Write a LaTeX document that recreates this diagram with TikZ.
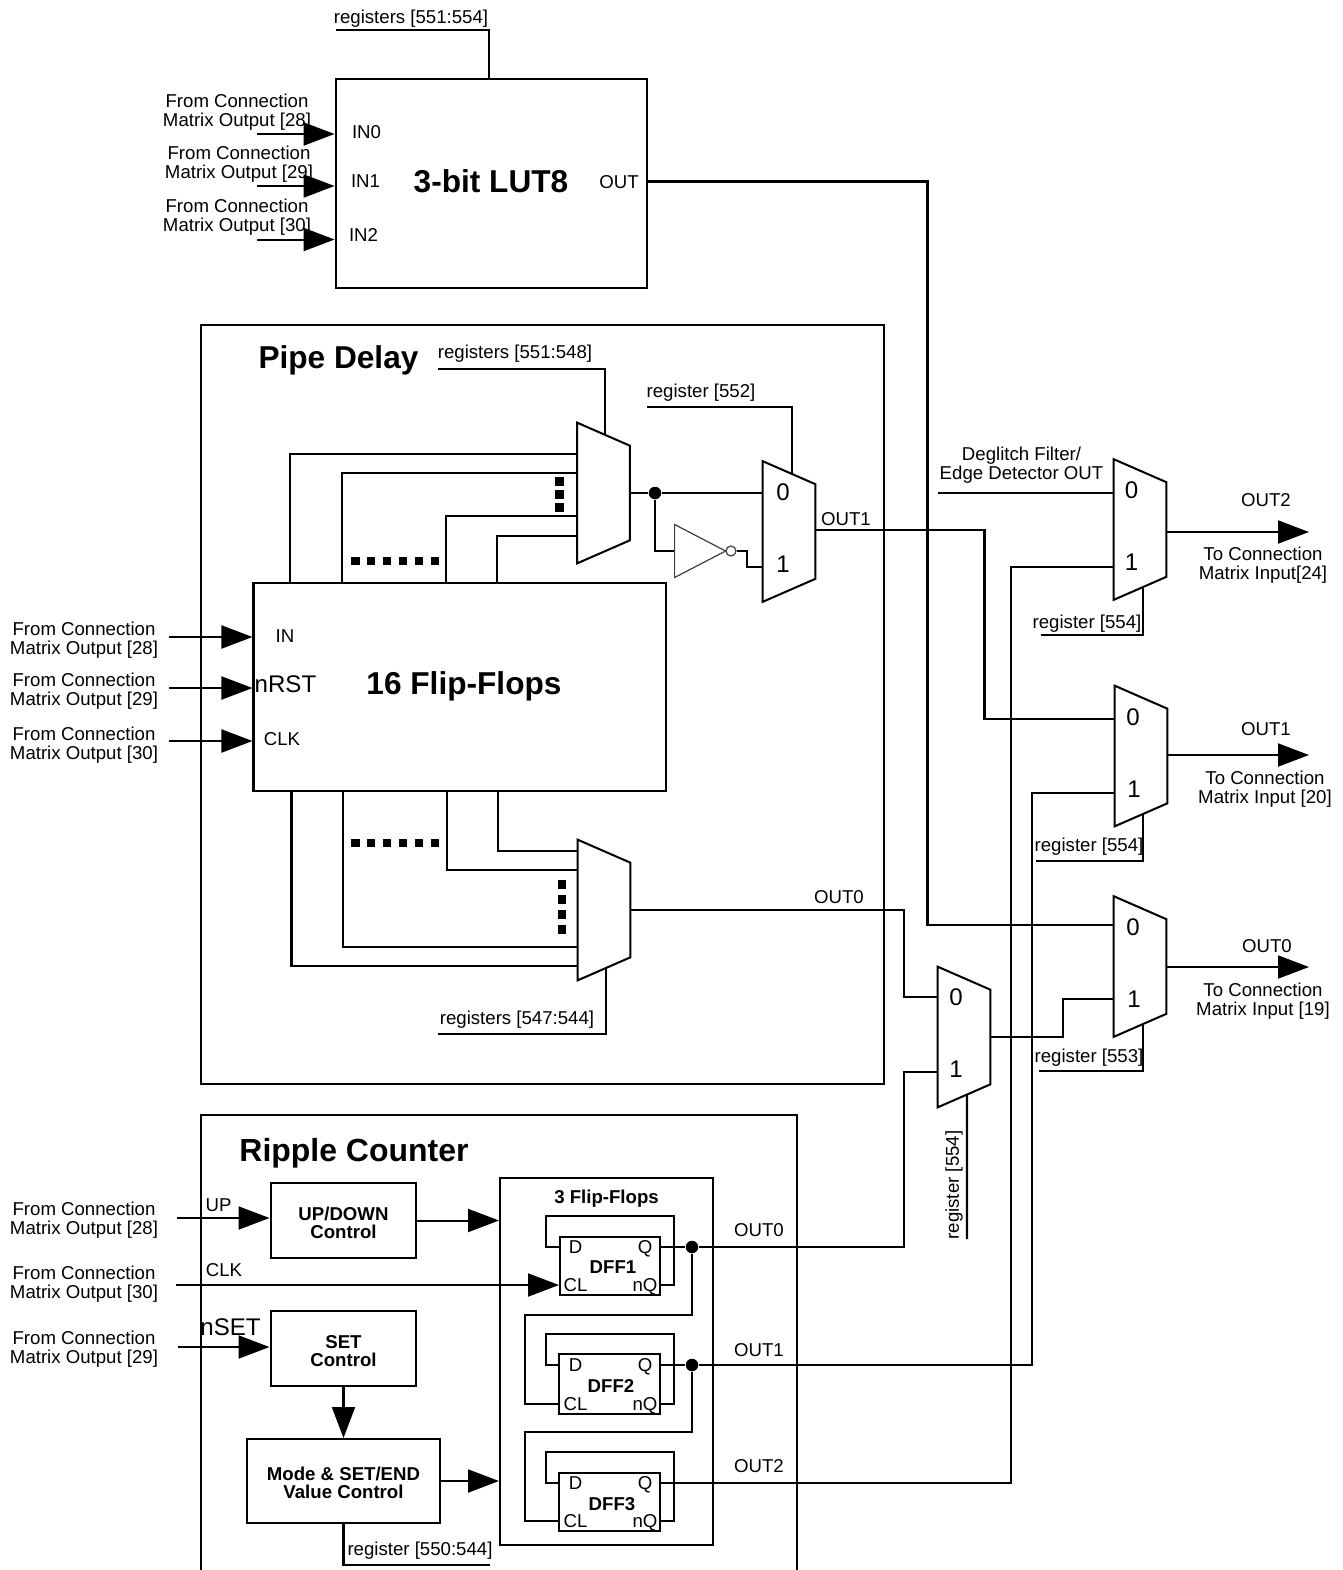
\documentclass[tikz,border=0pt]{standalone}
\usepackage{fontspec}
\setmainfont{Liberation Sans}
\usetikzlibrary{arrows.meta,shapes.geometric}
\tikzset{
  wire/.style={line width=1.15pt},
  feed/.style={wire,-{Triangle[length=0.62cm,width=0.46cm]}},
  blockbox/.style={draw,line width=1.15pt,inner sep=0pt,align=center},
  muxbox/.style={inner sep=0pt,minimum width=1.04cm,minimum height=2.8cm,
    append after command={\pgfextra{
      \draw[wire,line join=miter] (\tikzlastnode.north west) -- ([yshift=-0.46cm]\tikzlastnode.north east) -- ([yshift=0.46cm]\tikzlastnode.south east) -- (\tikzlastnode.south west) -- cycle;
      \coordinate (\tikzlastnode-top) at ([yshift=-0.23cm]\tikzlastnode.north);
      \coordinate (\tikzlastnode-bot) at ([yshift=0.23cm]\tikzlastnode.south);
    }}},
  lbl/.style={inner sep=0pt,align=center,yshift=-0.04cm,font=\fontsize{10.6}{10.5}\selectfont},
  portlbl/.style={inner sep=0pt,text height=7.6pt,text depth=0pt,font=\fontsize{10.6}{10.5}\selectfont},
  boldlbl/.style={inner sep=0pt,align=center,font=\fontsize{10.6}{10.5}\selectfont\bfseries},
  biglbl/.style={inner sep=0pt,align=center,font=\fontsize{13.7}{14}\selectfont},
  titlelbl/.style={inner sep=0pt,align=center,font=\fontsize{18}{18}\selectfont\bfseries},
  squaredots/.style={line width=0.17cm,dash pattern=on 0.17cm off 0.15cm},
  junction/.style={circle,fill=black,inner sep=0pt,minimum size=0.25cm}
}
\begin{document}
\begin{tikzpicture}[x=0.02cm,y=-0.02cm]
\useasboundingbox (0,0) rectangle (1343,1570);

\node[blockbox,minimum width=6.23cm,minimum height=4.18cm] (lut) at (491.3,183.7) {};
\node[titlelbl] (luttitle) at (491,181.5) {3-bit LUT8};
\node[lbl] (lutctl) at (411,17) {registers [551:554]};
\node[lbl] (lutin0) at (366.5,130) {IN0};
\node[lbl] (lutin1) at (365.5,179) {IN1};
\node[lbl] (lutin2) at (363.5,233) {IN2};
\node[portlbl] (lutout) at (619,181.5) {OUT};
\node[lbl] (srca) at (237,110) {From Connection\\Matrix Output [28]};
\node[lbl] (srcb) at (239,162) {From Connection\\Matrix Output [29]};
\node[lbl] (srcc) at (237,215) {From Connection\\Matrix Output [30]};
\coordinate (lutctlend) at (336,30);
\coordinate (srcaend) at (257,134);
\coordinate (srcbend) at (257,186);
\coordinate (srccend) at (257,239.5);
\draw[wire] (lutctlend) -| ([xshift=-0.05cm]lut.north);
\draw[feed] (srcaend) -- (srcaend -| lut.west);
\draw[feed] (srcbend) -- (srcbend -| lut.west);
\draw[feed] (srccend) -- (srccend -| lut.west);

\node[blockbox,minimum width=13.66cm,minimum height=15.2cm] (pipe) at (542.8,704.5) {};
\node[titlelbl] (pipetitle) at (338.5,360) {Pipe Delay};
\node[blockbox,minimum width=8.25cm,minimum height=4.17cm] (ffs) at (459.7,687) {};
\node[titlelbl] (ffstitle) at (464,686) {16 Flip-Flops};
\node[lbl] (ffsin) at (285,634) {IN};
\node[biglbl] (ffsrst) at (285.5,684) {nRST};
\node[lbl] (ffsclk) at (282,737) {CLK};
\node[lbl] (srcd) at (84,638) {From Connection\\Matrix Output [28]};
\node[lbl] (srce) at (84,689) {From Connection\\Matrix Output [29]};
\node[lbl] (srcf) at (84,743) {From Connection\\Matrix Output [30]};
\coordinate (srcdend) at (169,637);
\coordinate (srceend) at (169,688);
\coordinate (srcfend) at (169,741);
\draw[feed] (srcdend) -- (srcdend -| ffs.west);
\draw[feed] (srceend) -- (srceend -| ffs.west);
\draw[feed] (srcfend) -- (srcfend -| ffs.west);

\node[muxbox] (muxa) at (603.5,493) {};
\node[muxbox] (muxb) at (789,531.5) {};
\node[muxbox] (muxc) at (604,910) {};
\node[muxbox] (muxd) at (964,1037) {};
\node[muxbox] (muxotwo) at (1140,529.5) {};
\node[muxbox] (muxoone) at (1141,756) {};
\node[muxbox] (muxozero) at (1140,966.5) {};

\node[lbl] (muxactl) at (515,352) {registers [551:548]};
\node[lbl] (muxbctl) at (701,391) {register [552]};
\node[lbl] (muxcctl) at (517,1018) {registers [547:544]};
\node[biglbl] (muxb0) at (783,492) {0};
\node[biglbl] (muxb1) at (783,564) {1};
\node[biglbl] (muxd0) at (956,997) {0};
\node[biglbl] (muxd1) at (956,1069) {1};
\node[biglbl] (muxo20) at (1131.5,490) {0};
\node[biglbl] (muxo21) at (1131.5,562) {1};
\node[biglbl] (muxo10) at (1133,717) {0};
\node[biglbl] (muxo11) at (1134,789) {1};
\node[biglbl] (muxo00) at (1133,927) {0};
\node[biglbl] (muxo01) at (1134,999) {1};
\coordinate (muxactlend) at (438,369);
\coordinate (muxbctlend) at (647,407);
\coordinate (muxcctlend) at (438,1034);
\draw[wire] (muxactlend) -| ([xshift=0.03cm,yshift=-0.01cm]muxa-top);
\draw[wire] (muxbctlend) -| ([xshift=0.06cm,yshift=-0.03cm]muxb-top);
\draw[wire] (muxcctlend) -| ([xshift=0.04cm,yshift=0.02cm]muxc-bot);

\draw[wire] (ffs.north -| 290,0) |- (muxa.west |- 0,454);
\draw[wire] (ffs.north -| 342,0) |- (muxa.west |- 0,473);
\draw[wire] (ffs.north -| 446,0) |- (muxa.west |- 0,516);
\draw[wire] (ffs.north -| 497,0) |- (muxa.west |- 0,536);
\draw[wire] (ffs.south -| 498,0) |- (muxc.west |- 0,851);
\draw[wire] (ffs.south -| 447,0) |- (muxc.west |- 0,870);
\draw[wire] (ffs.south -| 343,0) |- (muxc.west |- 0,947);
\draw[wire] (ffs.south -| 291.5,0) |- (muxc.west |- 0,966);
\coordinate (dotsa) at (351,561);
\coordinate (dotsb) at (439,561);
\coordinate (dotsc) at (559.5,477);
\coordinate (dotsd) at (559.5,513);
\coordinate (dotse) at (351,843);
\coordinate (dotsf) at (439,843);
\coordinate (dotsg) at (562,880);
\coordinate (dotsh) at (562,936);
\draw[squaredots] (dotsa) -- (dotsb);
\draw[squaredots,dash pattern=on 0.18cm off 0.08cm] (dotsc) -- (dotsd);
\draw[squaredots] (dotse) -- (dotsf);
\draw[squaredots,dash pattern=on 0.18cm off 0.12cm] (dotsg) -- (dotsh);

\node[junction] (muxajoin) at (655,493) {};
\node[isosceles triangle,draw,line width=0.7pt,draw=black!75,isosceles triangle stretches,minimum width=1.06cm,minimum height=1.02cm,inner sep=0pt,anchor=lower side] (inv) at (674,551) {\rule{0pt}{1pt}};
\node[circle,draw,line width=0.7pt,draw=black!75,inner sep=0pt,minimum size=0.2cm] (invdot) at (731,551) {};
\draw[wire] (muxa.east) -- (muxajoin);
\draw[wire] (muxajoin) -- (muxajoin -| muxb.west);
\draw[wire] (muxajoin) |- (inv.lower side);
\draw[wire] (invdot) -| (747,567) -- (muxb.west |- 0,567);
\node[lbl] (muxbout) at (846,517) {OUT1};
\draw[wire] (muxb.east |- 0,530) -| (984.5,719) -- (muxoone.west |- 0,719);
\draw[wire] (lut.east |- lutout) -| (927.5,924.5) -- (muxozero.west |- 0,924.5);
\node[lbl] (muxcout) at (839,895) {OUT0};
\draw[wire] (muxc.east) -| (904,997) -- (muxd.west |- 0,997);

\node[lbl] (muxo2top) at (1021.5,463) {Deglitch Filter/\\Edge Detector OUT};
\coordinate (muxo2end) at (938,493);
\draw[wire] (muxo2end) -- (muxo2end -| muxotwo.west);
\node[lbl] (muxo2name) at (1266,498) {OUT2};
\node[lbl] (muxo2to) at (1263,563) {To Connection\\Matrix Input[24]};
\node[lbl] (muxo1name) at (1266,727) {OUT1};
\node[lbl] (muxo1to) at (1265,787) {To Connection\\Matrix Input [20]};
\node[lbl] (muxo0name) at (1267,944) {OUT0};
\node[lbl] (muxo0to) at (1263,999) {To Connection\\Matrix Input [19]};
\coordinate (muxo2tip) at (1309,532);
\coordinate (muxo1tip) at (1309,755);
\coordinate (muxo0tip) at (1309,967);
\draw[feed] (muxo2tip -| muxotwo.east) -- (muxo2tip);
\draw[feed] (muxo1tip -| muxoone.east) -- (muxo1tip);
\draw[feed] (muxo0tip -| muxozero.east) -- (muxo0tip);
\node[lbl] (muxo2ctl) at (1087,622) {register [554]};
\node[lbl] (muxo1ctl) at (1089,845) {register [554]};
\node[lbl] (muxo0ctl) at (1089,1056) {register [553]};
\node[lbl,rotate=90] (muxdctl) at (954,1183) {register [554]};
\coordinate (muxo2ctlend) at (1041,635);
\coordinate (muxo1ctlend) at (1036,861);
\coordinate (muxo0ctlend) at (1039,1071);
\coordinate (muxdctlend) at (967,1239);
\draw[wire] (muxo2ctlend) -| ([xshift=0.06cm,yshift=0.03cm]muxotwo-bot);
\draw[wire] (muxo1ctlend) -| ([xshift=0.04cm,yshift=0.02cm]muxoone-bot);
\draw[wire] (muxo0ctlend) -| ([xshift=0.06cm,yshift=0.03cm]muxozero-bot);
\draw[wire] (muxdctlend) -- ([xshift=0.06cm,yshift=0.03cm]muxd-bot);
\draw[wire] (muxd.east) -| (1063,999) -- (muxozero.west |- 0,999);

\coordinate (ripplea) at (201,1570);
\coordinate (rippleb) at (797,1570);
\draw[wire] (ripplea) -- (201,1115) -- (797,1115) -- (rippleb);
\node[titlelbl,font=\fontsize{18.2}{19}\selectfont\bfseries] (ripple) at (354,1153.5) {Ripple Counter};
\node[blockbox,minimum width=2.92cm,minimum height=1.5cm] (updown) at (343.5,1220.5) {};
\node[blockbox,minimum width=2.92cm,minimum height=1.5cm] (setctl) at (343.5,1348.5) {};
\node[blockbox,minimum width=3.88cm,minimum height=1.68cm] (mode) at (343.5,1481) {};
\node[boldlbl] (updownname) at (343.5,1223) {UP/DOWN\\Control};
\node[boldlbl] (setctlname) at (343.5,1351) {SET\\Control};
\node[boldlbl] (modename) at (343.5,1483) {Mode \& SET/END\\Value Control};
\node[blockbox,minimum width=4.26cm,minimum height=7.34cm] (flops) at (606.5,1361.5) {};
\node[boldlbl] (flopstitle) at (606.5,1199) {3 Flip-Flops};
\node[lbl] (srcg) at (84,1218) {From Connection\\Matrix Output [28]};
\node[lbl] (srch) at (84,1282) {From Connection\\Matrix Output [30]};
\node[lbl] (srci) at (84,1347) {From Connection\\Matrix Output [29]};
\node[lbl] (uplbl) at (218.5,1203) {UP};
\node[lbl] (clklbl) at (224,1268) {CLK};
\node[biglbl] (nsetlbl) at (230.5,1327) {nSET};
\coordinate (srcgend) at (177,1218);
\coordinate (srchend) at (176,1285);
\coordinate (srciend) at (178,1347);
\draw[feed] (srcgend) -- (srcgend -| updown.west);
\draw[feed] (srciend) -- (srciend -| setctl.west);
\draw[feed] (setctl) -- (mode);
\draw[feed] (updown.east) -- (updown.east -| flops.west);
\draw[feed] (mode.east) -- (mode.east -| flops.west);
\node[lbl] (modectl) at (420,1549) {register [550:544]};
\coordinate (modectlend) at (490,1565);
\draw[wire] (mode.south) |- (modectlend);

\node[blockbox,minimum width=2cm,minimum height=1.16cm] (dff1) at (610,1266) {};
\node[blockbox,minimum width=2.02cm,minimum height=1.2cm] (dff2) at (609.5,1384) {};
\node[blockbox,minimum width=2.02cm,minimum height=1.16cm] (dff3) at (609.5,1502) {};
\node[boldlbl] (dff1name) at (613,1267) {DFF1};
\node[boldlbl] (dff2name) at (611,1386) {DFF2};
\node[boldlbl] (dff3name) at (612,1504) {DFF3};
\node[portlbl] (dff1d) at (575.5,1247) {D};
\node[portlbl] (dff1q) at (645,1247) {Q};
\node[portlbl] (dff1cl) at (575.5,1285) {CL};
\node[portlbl] (dff1nq) at (645,1285) {nQ};
\node[portlbl] (dff2d) at (575.5,1365) {D};
\node[portlbl] (dff2q) at (645,1365) {Q};
\node[portlbl] (dff2cl) at (575.5,1404) {CL};
\node[portlbl] (dff2nq) at (645,1404) {nQ};
\node[portlbl] (dff3d) at (575.5,1483) {D};
\node[portlbl] (dff3q) at (645,1483) {Q};
\node[portlbl] (dff3cl) at (575.5,1521) {CL};
\node[portlbl] (dff3nq) at (645,1521) {nQ};
\node[junction] (joina) at (692,1247) {};
\node[junction] (joinb) at (692,1365) {};
\node[lbl] (out0lbl) at (759,1228) {OUT0};
\node[lbl] (out1lbl) at (759,1348) {OUT1};
\node[lbl] (out2lbl) at (759,1464) {OUT2};
\draw[feed] (srchend) -- (srchend -| dff1.west);
\draw[wire] (dff1nq -| dff1.east) -| (674,1216) -| (546,1247) -- (dff1d -| dff1.west);
\draw[wire] (dff2nq -| dff2.east) -| (674,1334) -| (546,1365) -- (dff2d -| dff2.west);
\draw[wire] (dff3nq -| dff3.east) -| (674,1452) -| (546,1483) -- (dff3d -| dff3.west);
\draw[wire] (dff1q -| dff1.east) -- (joina);
\draw[wire] (dff2q -| dff2.east) -- (joinb);
\draw[wire] (joina) |- (525,1315) |- (dff2cl -| dff2.west);
\draw[wire] (joinb) |- (525,1432) |- (dff3cl -| dff3.west);
\draw[wire] (joina) -| (904,1072) -- (muxd.west |- 0,1072);
\draw[wire] (joinb) -| (1032,793) -- (muxoone.west |- 0,793);
\draw[wire] (dff3q -| dff3.east) -| (1011,567) -- (muxotwo.west |- 0,567);
\end{tikzpicture}
\end{document}
